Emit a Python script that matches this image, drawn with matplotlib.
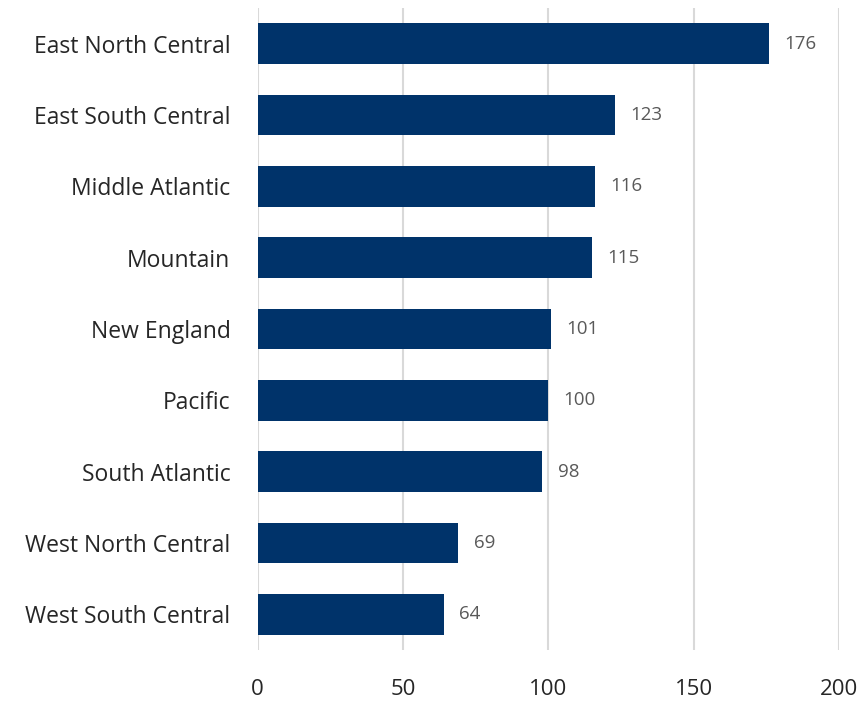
import matplotlib.pyplot as plt

regions = ['East North Central', 'East South Central', 'Middle Atlantic', 'Mountain',
           'New England', 'Pacific', 'South Atlantic', 'West North Central',
           'West South Central']
counts = [176, 123, 116, 115, 101, 100, 98, 69, 64]

plt.rcParams['font.family'] = ['Open Sans', 'DejaVu Sans']

fig = plt.figure(figsize=(8.61, 7.01), dpi=100)
ax = fig.add_axes([257.5 / 861, 1 - 650 / 701, (839 - 257.5) / 861, 642 / 701])

pos = list(range(len(regions)))
ax.barh(pos, counts, height=0.57, color='#00336A', zorder=2)
for p, c in zip(pos, counts):
    ax.text(c + 5.3, p, str(c), va='center', ha='left', fontsize=13.5, color='#595959')

ax.set_xlim(0, 200)
ax.set_ylim(len(regions) - 0.5, -0.5)
ax.set_yticks(pos)
ax.set_yticklabels(regions, fontsize=16.5, color='#262626')
ax.set_xticks([0, 50, 100, 150, 200])
ax.tick_params(axis='x', labelsize=16, labelcolor='#262626', length=0, pad=21)
ax.tick_params(axis='y', length=0, pad=19.5)
ax.grid(axis='x', color='#D9D9D9', linewidth=1.5, zorder=0)
for s in ax.spines.values():
    s.set_visible(False)

fig.savefig('out.png', dpi=100)
